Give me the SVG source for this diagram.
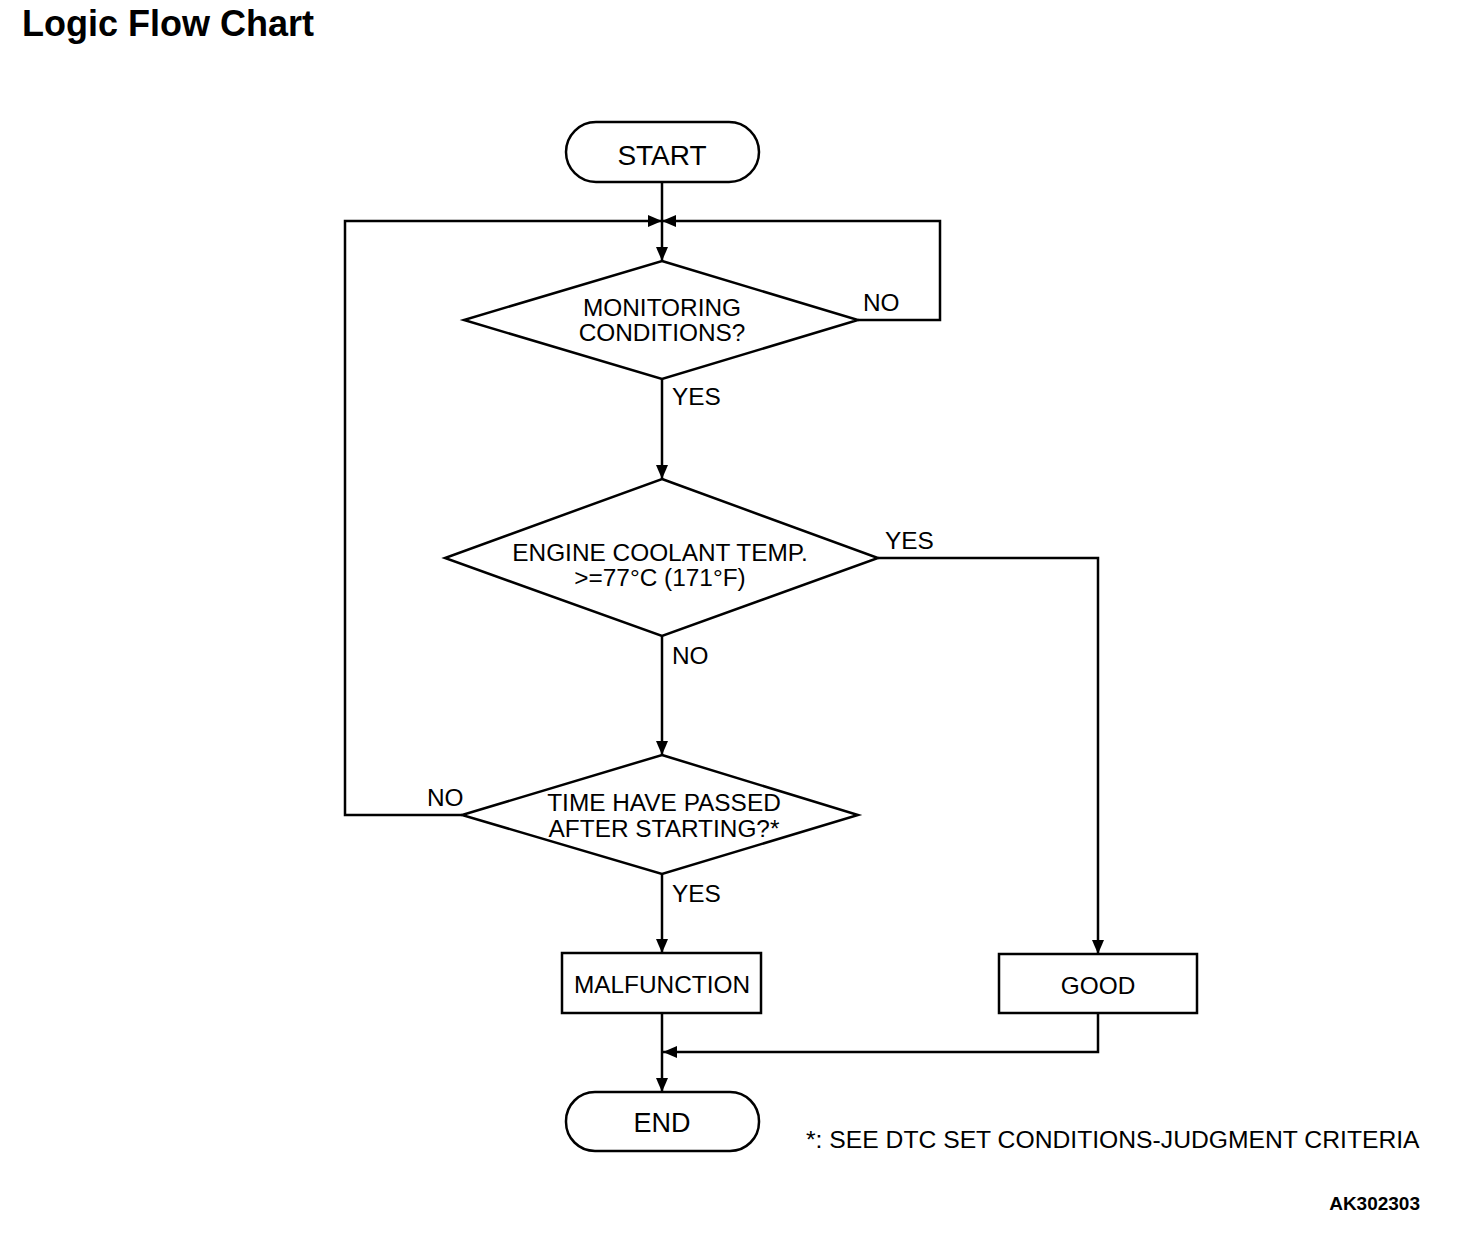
<svg xmlns="http://www.w3.org/2000/svg" width="1472" height="1244" viewBox="0 0 1472 1244">
<style>
.s{fill:#fff;stroke:#000;stroke-width:2.5}
.c{fill:none;stroke:#000;stroke-width:2.5}
.t{font-family:"Liberation Sans",Arial,sans-serif;font-size:24.4px;fill:#000}
.m{text-anchor:middle}
</style>
<defs>
<marker id="a" viewBox="0 0 14 12" refX="14" refY="6" markerWidth="14" markerHeight="12" markerUnits="userSpaceOnUse" orient="auto">
<path d="M0,0 L14,6 L0,12 Z" fill="#000"/>
</marker>
</defs>
<rect width="1472" height="1244" fill="#fff"/>
<text x="22" y="36" font-family="Liberation Sans,Arial,sans-serif" font-size="36" font-weight="bold">Logic Flow Chart</text>
<g id="connectors">
<line class="c" x1="662" y1="182" x2="662" y2="261" marker-end="url(#a)"/>
<polyline class="c" points="858,320 940,320 940,221 662,221" marker-end="url(#a)"/>
<polyline class="c" points="462,815 345,815 345,221 662,221" marker-end="url(#a)"/>
<line class="c" x1="662" y1="379" x2="662" y2="479" marker-end="url(#a)"/>
<polyline class="c" points="878,558 1098,558 1098,954" marker-end="url(#a)"/>
<line class="c" x1="662" y1="636" x2="662" y2="755" marker-end="url(#a)"/>
<line class="c" x1="662" y1="874" x2="662" y2="953" marker-end="url(#a)"/>
<line class="c" x1="662" y1="1013" x2="662" y2="1092" marker-end="url(#a)"/>
<polyline class="c" points="1098,1013 1098,1052 663,1052" marker-end="url(#a)"/>
<text class="t" x="863" y="311">NO</text>
<text class="t" x="672" y="405">YES</text>
<text class="t" x="885" y="549">YES</text>
<text class="t" x="672" y="664">NO</text>
<text class="t" x="427" y="806">NO</text>
<text class="t" x="672" y="902">YES</text>
</g>
<g id="start">
<rect class="s" x="566" y="122" width="193" height="60" rx="30"/>
<text class="t m" x="662" y="165" style="font-size:28px">START</text>
</g>
<g id="monitoring">
<polygon class="s" points="662,261 858,320 662,379 464,320"/>
<text class="t m" x="662" y="316">MONITORING</text>
<text class="t m" x="662" y="341">CONDITIONS?</text>
</g>
<g id="coolant">
<polygon class="s" points="662,479 878,558 662,636 445,558"/>
<text class="t m" x="660" y="561">ENGINE COOLANT TEMP.</text>
<text class="t m" x="660" y="586">&gt;=77°C (171°F)</text>
</g>
<g id="time">
<polygon class="s" points="662,755 858,815 662,874 462,815"/>
<text class="t m" x="664" y="811">TIME HAVE PASSED</text>
<text class="t m" x="664" y="837">AFTER STARTING?*</text>
</g>
<g id="malfunction">
<rect class="s" x="562" y="953" width="199" height="60"/>
<text class="t m" x="662" y="993">MALFUNCTION</text>
</g>
<g id="good">
<rect class="s" x="999" y="954" width="198" height="59"/>
<text class="t m" x="1098" y="994">GOOD</text>
</g>
<g id="end">
<rect class="s" x="566" y="1092" width="193" height="59" rx="29"/>
<text class="t m" x="662" y="1132" style="font-size:27px">END</text>
</g>
<text class="t" x="806" y="1148" style="font-size:24.7px">*: SEE DTC SET CONDITIONS-JUDGMENT CRITERIA</text>
<text x="1420" y="1210" text-anchor="end" font-family="Liberation Sans,Arial,sans-serif" font-size="19" font-weight="bold">AK302303</text>
</svg>
